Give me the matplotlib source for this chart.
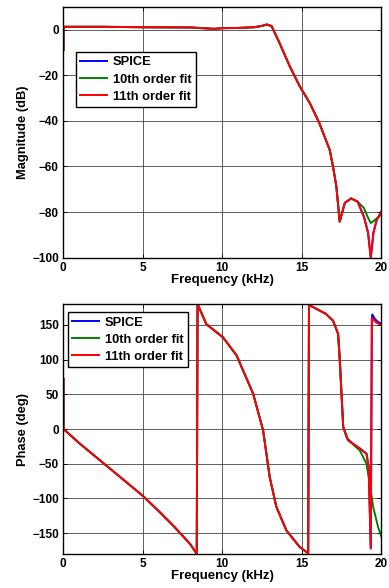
import numpy as np
import matplotlib.pyplot as plt

# magnitude response (kHz, dB)
mag_f = [0.03, 0.03, 0.08, 2.5, 5.0, 8.0, 9.5, 10.0, 11.0, 12.0, 12.5, 12.8, 13.1, 13.6,
         14.24, 14.87, 15.5, 16.1, 16.75, 16.96, 17.17, 17.38, 17.7, 18.1, 18.5]
mag_spice = [-9.0, 1.0, 1.2, 1.2, 1.0, 0.9, 0.3, 0.6, 0.7, 1.0, 1.6, 2.2, 1.5, -5.9,
             -16.1, -24.9, -32.2, -41.0, -52.7, -60.0, -68.8, -84.2, -76.0, -74.0, -75.4]

mag_tail_f = [18.9, 19.16, 19.33, 19.5, 19.7, 20.0]
mag_tail_spice = [-82.0, -89.0, -100.0, -89.0, -83.5, -79.8]
mag_tail_10 = [-78.2, -82.5, -84.8, -84.0, -82.8, -81.0]

# phase response (kHz, deg)
ph_f = [0.03, 0.03, 1.0, 2.0, 3.0, 4.0, 5.0, 6.0, 7.0, 8.0, 8.4,
        8.45, 9.0, 10.05, 10.9, 11.94, 12.57, 12.98, 13.4, 14.03, 14.87, 15.4,
        15.45, 15.5, 16.5, 16.96, 17.28, 17.38, 17.6, 17.9, 18.64, 19.06]
ph_spice = [72.0, 0.0, -20.0, -39.0, -58.0, -77.0, -96.0, -118.0, -141.0, -166.0, -180.0,
            180.0, 151.0, 132.0, 106.0, 51.0, -2.0, -69.0, -112.0, -146.0, -170.0, -179.0,
            180.0, 178.0, 166.0, 156.0, 137.0, 103.5, 3.0, -16.0, -28.0, -35.5]

ph_tail_f_11 = [19.2, 19.33, 19.4, 19.43, 19.55, 19.69, 20.0]
ph_tail_11 = [-55.0, -172.0, 158.0, 160.0, 156.0, 153.0, 150.0]
ph_tail_spice = [-55.0, -172.0, 160.0, 165.0, 160.0, 156.0, 151.0]

ph_tail_f_10 = [17.6, 17.8, 18.2, 18.64, 19.06, 19.27, 19.48, 19.79, 20.0]
ph_tail_10 = [3.0, -11.5, -22.0, -30.7, -50.0, -78.6, -112.0, -141.0, -155.0]

plt.rcParams['font.family'] = 'Liberation Sans'
plt.rcParams['font.weight'] = 'bold'
plt.rcParams['font.size'] = 8.5

fig = plt.figure(figsize=(3.89, 5.88), dpi=100)
ax1 = fig.add_axes([0.162, 0.5617, 0.8185, 0.4269])
ax2 = fig.add_axes([0.162, 0.0578, 0.8185, 0.4252])

blue, green, red = '#0000ff', '#008000', '#ff0000'
lw = 1.4

# magnitude
f_all = mag_f + mag_tail_f
ax1.plot(f_all, mag_spice + mag_tail_spice, color=blue, lw=lw, label='SPICE')
ax1.plot(f_all, mag_spice + mag_tail_10, color=green, lw=lw, label='10th order fit')
ax1.plot(f_all, mag_spice + mag_tail_spice, color=red, lw=lw, label='11th order fit')
ax1.set_xlim(0, 20)
ax1.set_ylim(-100, 10)
ax1.set_yticks([0, -20, -40, -60, -80, -100])
ax1.set_xticks([0, 5, 10, 15, 20])
ax1.set_ylabel('Magnitude (dB)', fontweight='bold', fontsize=9.3, labelpad=2)
ax1.set_xlabel('Frequency (kHz)', fontweight='bold', fontsize=9.5, labelpad=0)

# phase
ax2.plot(ph_f + ph_tail_f_11, ph_spice + ph_tail_spice, color=blue, lw=lw, label='SPICE')
ax2.plot(ph_f[:-5] + ph_tail_f_10, ph_spice[:-5] + ph_tail_10, color=green, lw=lw,
         label='10th order fit')
ax2.plot(ph_f + ph_tail_f_11, ph_spice + ph_tail_11, color=red, lw=lw, label='11th order fit')
ax2.set_xlim(0, 20)
ax2.set_ylim(-180, 180)
ax2.set_yticks([150, 100, 50, 0, -50, -100, -150])
ax2.set_xticks([0, 5, 10, 15, 20])
ax2.set_ylabel('Phase (deg)', fontweight='bold', fontsize=9.3, labelpad=2)
ax2.set_xlabel('Frequency (kHz)', fontweight='bold', fontsize=9.5, labelpad=0)

for ax in (ax1, ax2):
    ax.grid(True, color='#444444', lw=0.6)
    ax.tick_params(direction='in', top=True, right=True, length=3, width=0.6, pad=3)
    for s in ax.spines.values():
        s.set_linewidth(1.0)

leg_kw = dict(loc='upper left', fancybox=False, edgecolor='black', framealpha=1,
              borderpad=0.35, borderaxespad=0, handlelength=2.1, labelspacing=0.4,
              handletextpad=0.4, fontsize=9.3)
ax1.legend(bbox_to_anchor=(0.04, 0.82), **leg_kw)
ax2.legend(bbox_to_anchor=(0.015, 0.968), **leg_kw)

fig.savefig('out.png', dpi=100)
